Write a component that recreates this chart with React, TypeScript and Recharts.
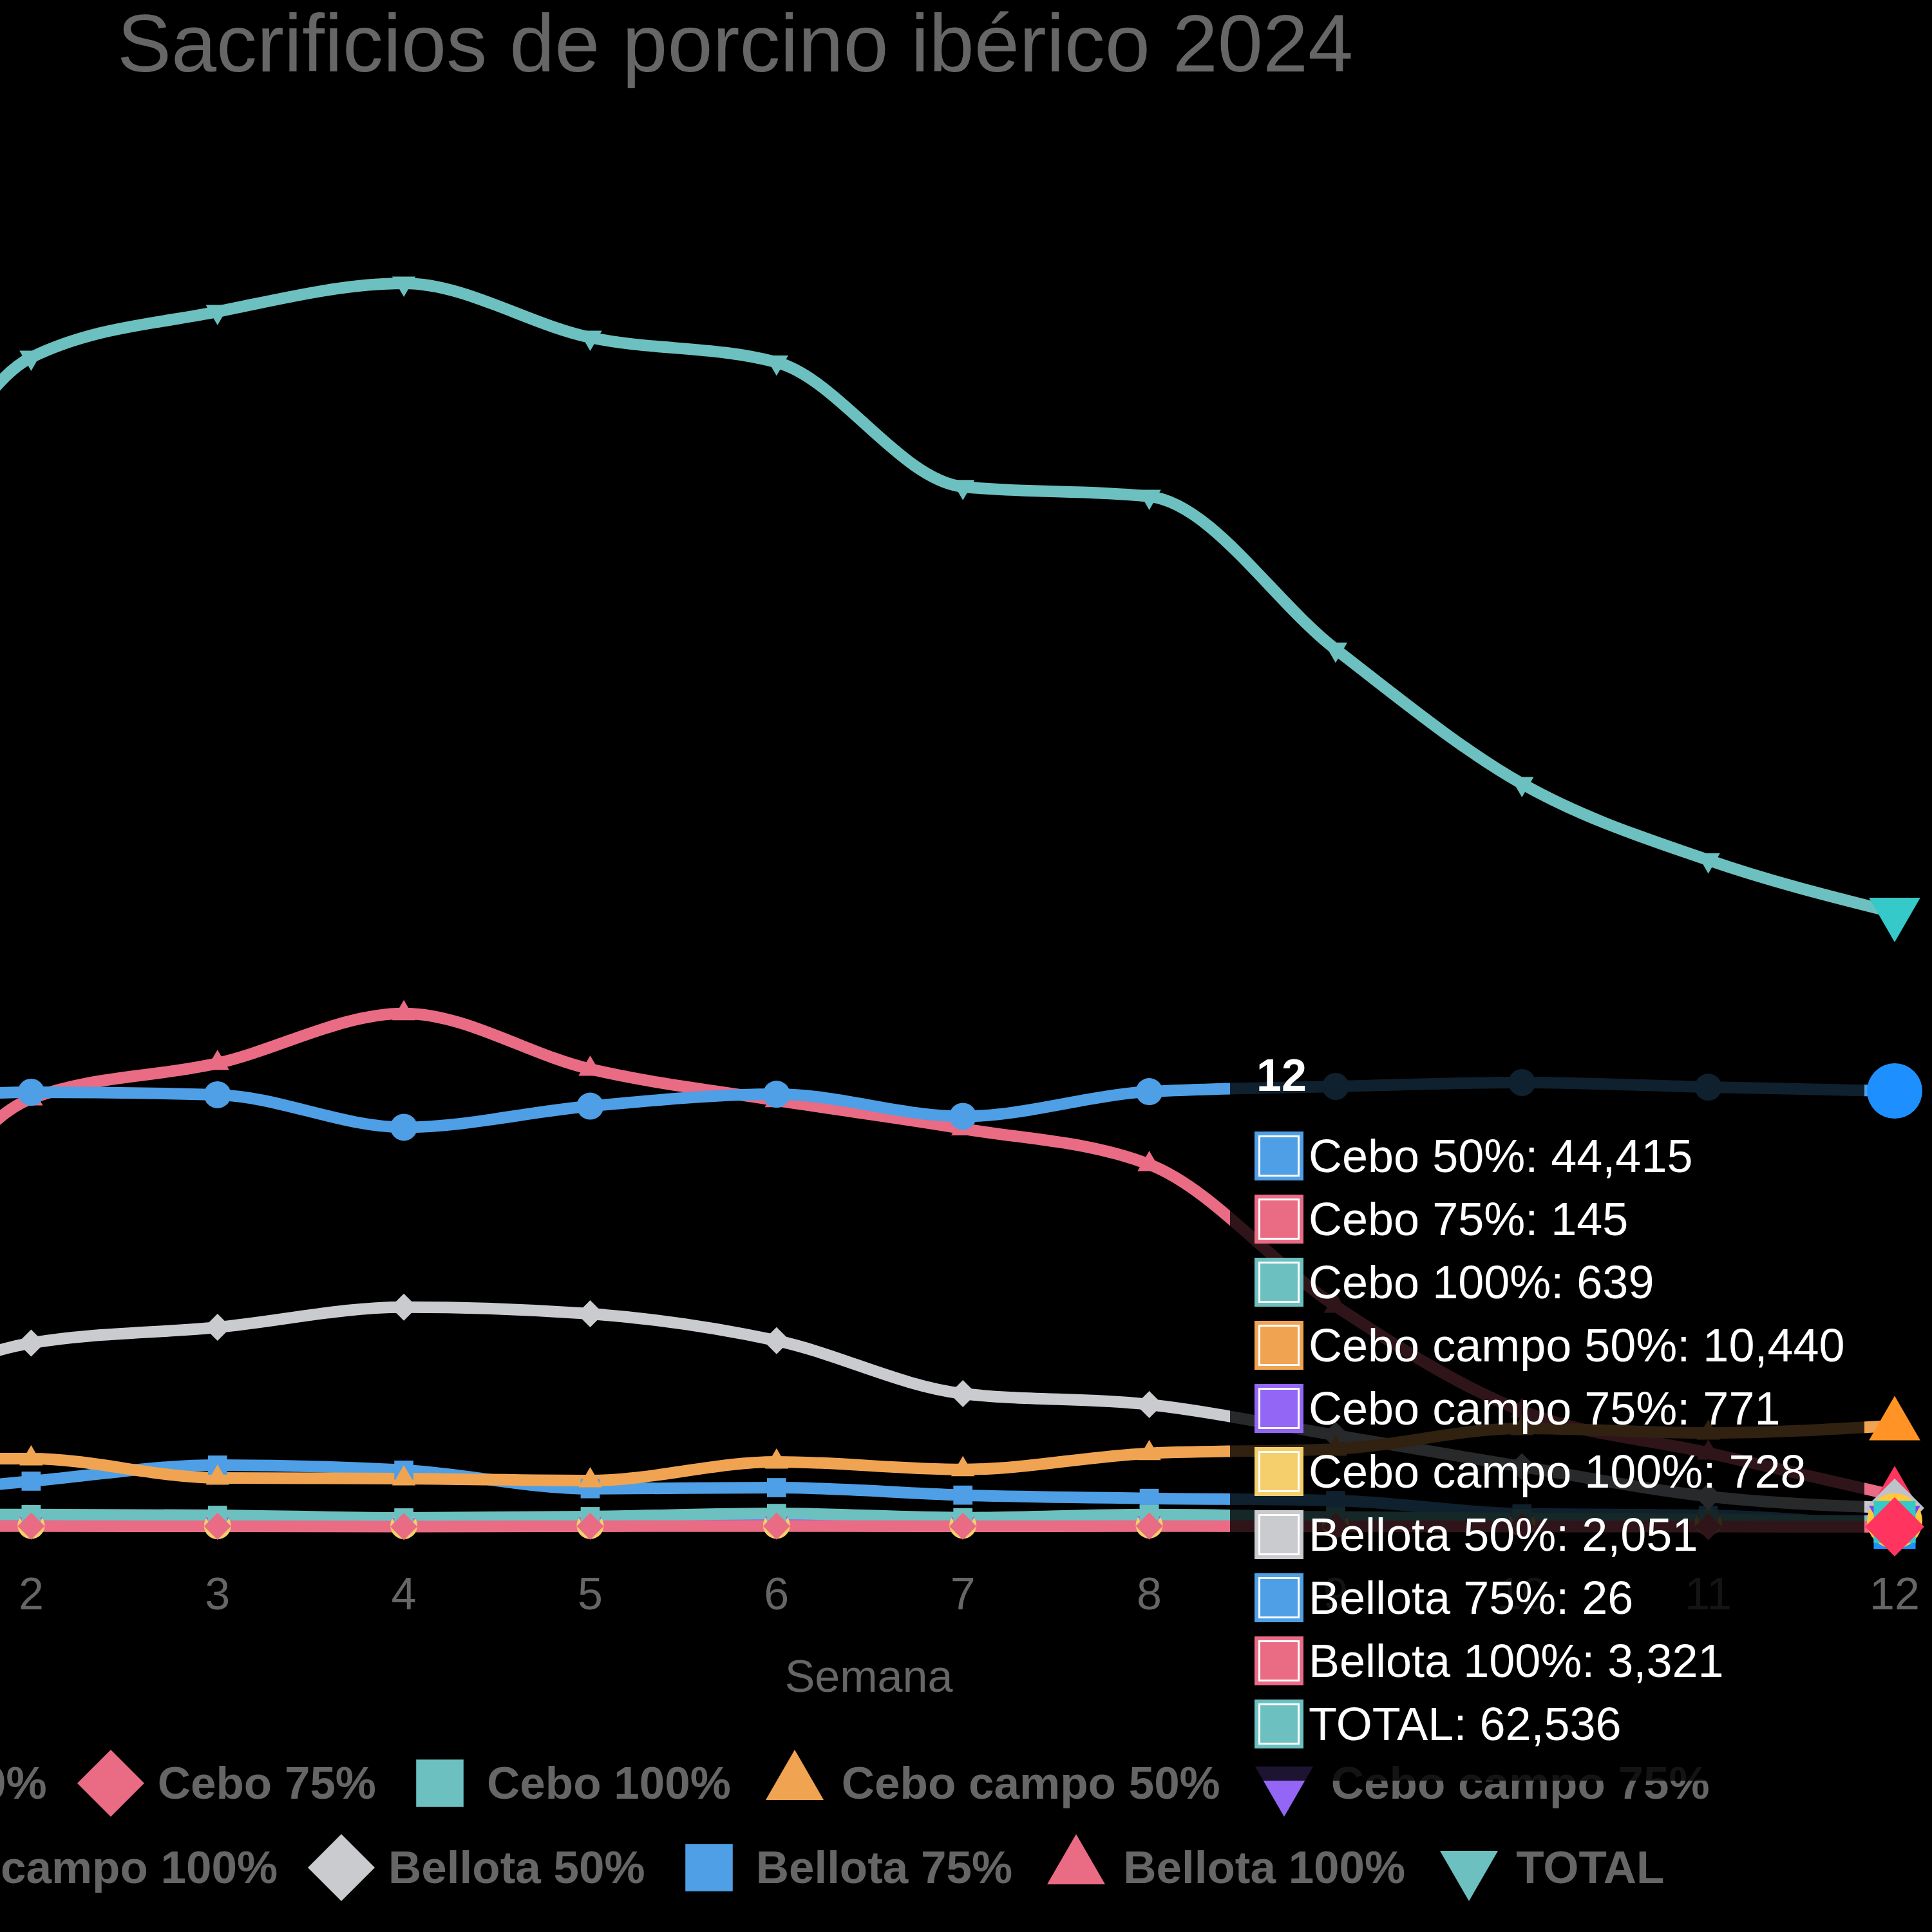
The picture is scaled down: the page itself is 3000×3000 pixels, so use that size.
import React from 'react';
import { LineChart, Line, XAxis, YAxis, Tooltip } from 'recharts';

// Weekly slaughter of Iberian pigs, 2024 (head per week)
const WEEKS = [1, 2, 3, 4, 5, 6, 7, 8, 9, 10, 11, 12];

const CEBO_50 = [42500, 44290, 44030, 40730, 42880, 44090, 41840, 44350, 44880, 45270, 44810, 44415];
const CEBO_75 = [190, 210, 190, 170, 200, 220, 190, 210, 180, 170, 160, 145];
const CEBO_100 = [1400, 1390, 1310, 1050, 1180, 1500, 1070, 1390, 1150, 1000, 900, 639];
const CEBO_CAMPO_50 = [7100, 7065, 5100, 5040, 4840, 6740, 5970, 7610, 8050, 10140, 9680, 10440];
const CEBO_CAMPO_75 = [420, 460, 430, 380, 450, 520, 480, 560, 600, 680, 720, 771];
const CEBO_CAMPO_100 = [300, 280, 250, 260, 270, 300, 310, 330, 420, 520, 610, 728];
const BELLOTA_50 = [11500, 18810, 20410, 22460, 21780, 19060, 13670, 12560, 9440, 6250, 3230, 2051];
const BELLOTA_75 = [3000, 4780, 6410, 5900, 4010, 4120, 3360, 3030, 2810, 1460, 1310, 26];
const BELLOTA_100 = [19000, 43640, 47230, 52290, 46640, 43460, 40590, 36960, 22570, 11910, 7650, 3321];
const TOTAL = [86000, 118930, 123580, 126460, 120960, 118440, 105800, 104810, 89290, 75630, 67870, 62536];

const TITLE = 'Sacrificios de porcino ibérico 2024';
const X_TITLE = 'Semana';
const Y_DOMAIN: [number, number] = [0, 140000];

type Shape = 'circle' | 'rect' | 'rectRot' | 'triangle' | 'triangleDown';

interface Series {
  key: string;
  name: string;
  values: number[];
  color: string;
  hover: string;
  shape: Shape;
}

const SERIES: Series[] = [
  { key: 'cebo50', name: 'Cebo 50%', values: CEBO_50, color: '#4E9FE5', hover: '#1E8FFF', shape: 'circle' },
  { key: 'cebo75', name: 'Cebo 75%', values: CEBO_75, color: '#EA6B84', hover: '#FF3560', shape: 'rectRot' },
  { key: 'cebo100', name: 'Cebo 100%', values: CEBO_100, color: '#6CC0C0', hover: '#35C9C9', shape: 'rect' },
  { key: 'campo50', name: 'Cebo campo 50%', values: CEBO_CAMPO_50, color: '#F0A452', hover: '#FF9326', shape: 'triangle' },
  { key: 'campo75', name: 'Cebo campo 75%', values: CEBO_CAMPO_75, color: '#9366F5', hover: '#7B3FFF', shape: 'triangleDown' },
  { key: 'campo100', name: 'Cebo campo 100%', values: CEBO_CAMPO_100, color: '#F5CF6B', hover: '#FFC83D', shape: 'circle' },
  { key: 'bellota50', name: 'Bellota 50%', values: BELLOTA_50, color: '#C9CBCF', hover: '#BDC2CB', shape: 'rectRot' },
  { key: 'bellota75', name: 'Bellota 75%', values: BELLOTA_75, color: '#4E9FE5', hover: '#1E8FFF', shape: 'rect' },
  { key: 'bellota100', name: 'Bellota 100%', values: BELLOTA_100, color: '#EA6B84', hover: '#FF3560', shape: 'triangle' },
  { key: 'total', name: 'TOTAL', values: TOTAL, color: '#6CC0C0', hover: '#35C9C9', shape: 'triangleDown' },
];

const data = WEEKS.map((week, i) => {
  const row: Record<string, number> = { week };
  SERIES.forEach((s) => {
    row[s.key] = s.values[i];
  });
  return row;
});

// Layout (page pixels)
const VIEW = 3000;
const CHART_LEFT = -737;
const CHART_WIDTH = 3737;
const CHART_HEIGHT = 3000;
const MARGIN = { top: 233, right: 58, bottom: 527, left: 496 };
const X_AXIS_HEIGHT = 100;
const FONT = '"Liberation Sans", Arial, Helvetica, sans-serif';
const TEXT_GREY = '#666';

function Marker({ shape, cx, cy, r, fill }: { shape: Shape; cx: number; cy: number; r: number; fill: string }) {
  if (cx == null || cy == null) return null;
  switch (shape) {
    case 'circle':
      return <circle cx={cx} cy={cy} r={r} fill={fill} />;
    case 'rect': {
      const h = r / Math.SQRT2;
      return <rect x={cx - h} y={cy - h} width={2 * h} height={2 * h} fill={fill} />;
    }
    case 'rectRot':
      return <polygon points={`${cx},${cy - r} ${cx + r},${cy} ${cx},${cy + r} ${cx - r},${cy}`} fill={fill} />;
    case 'triangle': {
      const e = Math.sqrt(3) * r;
      const h = 1.5 * r;
      return (
        <polygon
          points={`${cx - e / 2},${cy + h / 3} ${cx + e / 2},${cy + h / 3} ${cx},${cy - (2 * h) / 3}`}
          fill={fill}
        />
      );
    }
    case 'triangleDown': {
      const e = Math.sqrt(3) * r;
      const h = 1.5 * r;
      return (
        <polygon
          points={`${cx - e / 2},${cy - h / 3} ${cx + e / 2},${cy - h / 3} ${cx},${cy + (2 * h) / 3}`}
          fill={fill}
        />
      );
    }
    default:
      return null;
  }
}

const fmt = (v: number) => (v == null ? '' : Number(v).toLocaleString('en-US'));

function TooltipBox({ active, payload, label }: any) {
  if (!active || !payload || !payload.length) return null;
  const byKey: Record<string, number> = {};
  payload.forEach((p: any) => {
    byKey[p.dataKey] = p.value;
  });
  return (
    <div
      style={{
        width: 985,
        height: 1165,
        boxSizing: 'border-box',
        paddingTop: 35,
        background: 'rgba(0,0,0,0.8)',
        fontFamily: FONT,
        color: '#fff',
      }}
    >
      <div style={{ marginLeft: 41, height: 70, lineHeight: '70px', fontSize: 70, fontWeight: 'bold' }}>{label}</div>
      <div style={{ marginTop: 41 }}>
        {SERIES.map((s) => (
          <div key={s.key} style={{ display: 'flex', alignItems: 'center', height: 98 }}>
            <div style={{ marginLeft: 38, width: 76, height: 76, background: s.color, position: 'relative', flex: 'none' }}>
              <div
                style={{
                  position: 'absolute',
                  left: 6,
                  top: 6,
                  right: 6,
                  bottom: 6,
                  border: '3px solid #fff',
                  boxSizing: 'border-box',
                }}
              />
            </div>
            <span style={{ marginLeft: 8, fontSize: 72, lineHeight: '72px', whiteSpace: 'nowrap' }}>
              {s.name}: {fmt(byKey[s.key])}
            </span>
          </div>
        ))}
      </div>
    </div>
  );
}

function LegendRows() {
  const rows = [SERIES.slice(0, 5), SERIES.slice(5)];
  return (
    <div style={{ position: 'absolute', left: CHART_LEFT, top: 2703, width: CHART_WIDTH }}>
      {rows.map((row, ri) => (
        <div key={ri} style={{ display: 'flex', justifyContent: 'center', alignItems: 'center', height: 131 }}>
          {row.map((s, i) => (
            <div key={s.key} style={{ display: 'flex', alignItems: 'center', marginLeft: i ? 47 : 0, flex: 'none' }}>
              <svg width={104} height={104} style={{ display: 'block' }}>
                <Marker shape={s.shape} cx={52} cy={52} r={52} fill={s.color} />
              </svg>
              <span
                style={{
                  marginLeft: 21,
                  fontFamily: FONT,
                  fontWeight: 'bold',
                  fontSize: 71,
                  lineHeight: '71px',
                  color: TEXT_GREY,
                  whiteSpace: 'nowrap',
                }}
              >
                {s.name}
              </span>
            </div>
          ))}
        </div>
      ))}
    </div>
  );
}

export default function App() {
  // Later series are drawn first so the first series sits on top.
  const drawOrder = [...SERIES].reverse();
  return (
    <div
      style={{
        position: 'absolute',
        left: 0,
        top: 0,
        width: VIEW,
        height: VIEW,
        overflow: 'hidden',
        background: '#000',
        fontFamily: FONT,
      }}
    >
      <div
        style={{
          position: 'absolute',
          left: 182,
          top: 5,
          fontSize: 126,
          lineHeight: '126px',
          color: TEXT_GREY,
          whiteSpace: 'nowrap',
        }}
      >
        {TITLE}
      </div>
      <div
        style={{
          position: 'absolute',
          left: 1349 - 300,
          width: 600,
          top: 2568,
          textAlign: 'center',
          fontSize: 70,
          lineHeight: '70px',
          color: TEXT_GREY,
        }}
      >
        {X_TITLE}
      </div>
      <LegendRows />
      <div style={{ position: 'absolute', left: CHART_LEFT, top: 0 }}>
        <LineChart width={CHART_WIDTH} height={CHART_HEIGHT} data={data} margin={MARGIN}>
          <XAxis
            dataKey="week"
            height={X_AXIS_HEIGHT}
            axisLine={false}
            tickLine={false}
            tickSize={0}
            tickMargin={76}
            interval={0}
            tick={{ fill: TEXT_GREY, fontSize: 70, fontFamily: FONT }}
          />
          <YAxis hide type="number" domain={Y_DOMAIN} />
          <Tooltip
            content={<TooltipBox />}
            defaultIndex={11}
            active
            cursor={false}
            isAnimationActive={false}
            position={{ x: 1910 - CHART_LEFT, y: 1600 }}
            wrapperStyle={{ zIndex: 5, outline: 'none' }}
          />
          {drawOrder.map((s) => (
            <Line
              key={s.key}
              type="monotone"
              dataKey={s.key}
              name={s.name}
              stroke={s.color}
              strokeWidth={18}
              strokeLinejoin="round"
              isAnimationActive={false}
              dot={(p: any) => (
                <Marker key={`dot-${s.key}-${p.index}`} shape={s.shape} cx={p.cx} cy={p.cy} r={21} fill={s.color} />
              )}
              activeDot={(p: any) => (
                <Marker
                  key={`active-${s.key}`}
                  shape={s.shape}
                  cx={p.cx}
                  cy={p.cy}
                  r={s.shape === 'circle' ? 43 : 46}
                  fill={s.hover}
                />
              )}
            />
          ))}
        </LineChart>
      </div>
    </div>
  );
}
